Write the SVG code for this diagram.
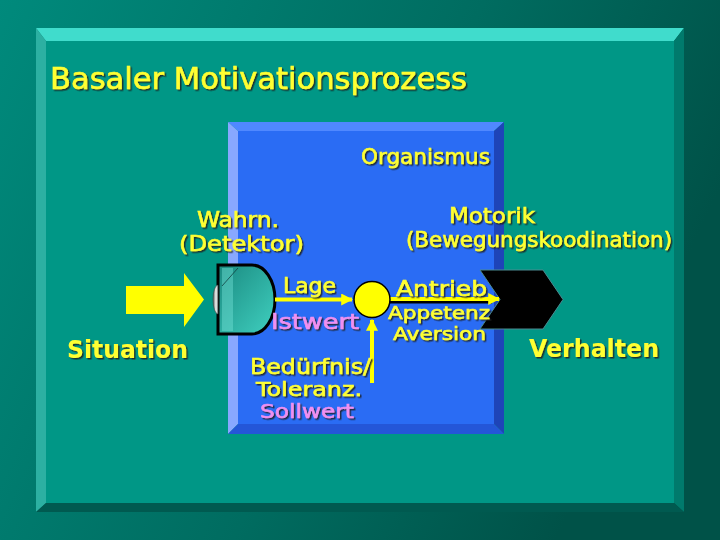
<svg xmlns="http://www.w3.org/2000/svg" width="720" height="540" viewBox="0 0 720 540">
<defs>
  <linearGradient id="bg" x1="0" y1="0" x2="1" y2="0.35">
    <stop offset="0" stop-color="#008a7c"/>
    <stop offset="0.6" stop-color="#006c60"/>
    <stop offset="1" stop-color="#005248"/>
  </linearGradient>
  <linearGradient id="det" x1="0" y1="0" x2="1" y2="1">
    <stop offset="0" stop-color="#1a8a80"/>
    <stop offset="1" stop-color="#40d0c0"/>
  </linearGradient>
  <linearGradient id="lens" x1="0" y1="0" x2="1" y2="0">
    <stop offset="0" stop-color="#505858"/>
    <stop offset="0.6" stop-color="#f4f4f4"/>
    <stop offset="1" stop-color="#909898"/>
  </linearGradient>
  <filter id="sh" x="-10%" y="-20%" width="130%" height="150%">
    <feDropShadow dx="1.5" dy="1.5" stdDeviation="0.4" flood-color="#202020" flood-opacity="0.85"/>
  </filter>
  <marker id="ah" viewBox="0 0 10 10" refX="9" refY="5" markerWidth="3" markerHeight="3" orient="auto" markerUnits="strokeWidth">
    <path d="M0,0 L10,5 L0,10 z" fill="#ffff00"/>
  </marker>
  <style>
    .t{font-family:"Comic Sans MS","DejaVu Sans","Liberation Sans",sans-serif;filter:url(#sh);stroke-width:0.6px;paint-order:stroke}
    .y{fill:#ffff33;stroke:#ffff33}
    .p{fill:#f090f0;stroke:#f090f0}
    .m{font-size:21px}
    .s{font-size:20px}
    .xs{font-size:18.5px}
    .b{font-size:25px;font-weight:bold;stroke-width:0}
    .ln{stroke:#ffff00;stroke-width:4;fill:none}
  </style>
</defs>

<rect x="0" y="0" width="720" height="540" fill="url(#bg)"/>

<g id="panel">
  <polygon points="36,28 684,28 674,41 46,41" fill="#40dccc"/>
  <polygon points="36,28 46,41 46,503 36,512" fill="#2cb0a2"/>
  <polygon points="684,28 684,512 674,503 674,41" fill="#007a6c"/>
  <polygon points="36,512 684,512 674,503 46,503" fill="#005a50"/>
  <rect x="46" y="41" width="628" height="462" fill="#009786"/>
</g>

<g id="title">
  <text class="t y" x="50" y="89" font-size="30" stroke-width="0.8" textLength="417" lengthAdjust="spacingAndGlyphs">Basaler Motivationsprozess</text>
</g>

<g id="organismus">
  <polygon points="228,122 504,122 494,131 238,131" fill="#5088ff"/>
  <polygon points="228,122 238,131 238,424 228,434" fill="#88a8ff"/>
  <polygon points="504,122 504,434 494,424 494,131" fill="#1e44b8"/>
  <polygon points="228,434 504,434 494,424 238,424" fill="#2456d8"/>
  <rect x="238" y="131" width="256" height="293" fill="#2a6cf4"/>
  <text class="t y m" x="361" y="164" textLength="129" lengthAdjust="spacingAndGlyphs">Organismus</text>
</g>

<g id="situation">
  <polygon points="126,286 184,286 184,273 204,299.5 184,327 184,314 126,314" fill="#ffff00"/>
  <text class="t y b" x="67" y="358" textLength="121" lengthAdjust="spacingAndGlyphs">Situation</text>
</g>

<g id="detektor">
  <text class="t y m" x="197" y="227" textLength="82" lengthAdjust="spacingAndGlyphs">Wahrn.</text>
  <text class="t y m" x="179" y="251" textLength="125" lengthAdjust="spacingAndGlyphs">(Detektor)</text>
  <path d="M218,265 L252,265 A23,34.5 0 0 1 252,334 L218,334 Z" fill="url(#det)" stroke="#000" stroke-width="3"/>
  <rect x="222" y="268" width="11" height="63" fill="#70e0d4" opacity="0.45"/>
  <line x1="222" y1="286" x2="238" y2="268" stroke="#104040" stroke-width="0.8"/>
  <path d="M218,285 A5,14.5 0 0 0 218,314 Z" fill="url(#lens)" stroke="#404848" stroke-width="0.6"/>
</g>

<g id="motorik">
  <text class="t y m" x="449" y="223" textLength="86" lengthAdjust="spacingAndGlyphs">Motorik</text>
  <text class="t y m" x="406" y="247" textLength="266" lengthAdjust="spacingAndGlyphs">(Bewegungskoodination)</text>
  <polygon points="480,270 543,270 563,299.5 543,329 480,329 500,299.5" fill="#000" stroke="#4a8a90" stroke-width="1"/>
</g>

<g id="connectors">
  <line class="ln" x1="275" y1="299.5" x2="352" y2="299.5" marker-end="url(#ah)"/>
  <line class="ln" x1="372" y1="383" x2="372" y2="320" marker-end="url(#ah)"/>
  <line x1="390" y1="301.5" x2="492" y2="301.5" stroke="#000" stroke-width="4"/>
  <line class="ln" x1="390" y1="299" x2="499" y2="299" marker-end="url(#ah)"/>
</g>

<g id="vergleicher">
  <circle cx="372" cy="299.5" r="18" fill="#ffff00" stroke="#000" stroke-width="1.5"/>
</g>

<g id="labels-innen">
  <text class="t y m" x="283" y="293" textLength="53" lengthAdjust="spacingAndGlyphs">Lage</text>
  <text class="t p m" x="271" y="329" textLength="88" lengthAdjust="spacingAndGlyphs">Istwert</text>
  <text class="t y m" x="250" y="374" textLength="121" lengthAdjust="spacingAndGlyphs">Bedürfnis/</text>
  <text class="t y s" x="256" y="396" textLength="106" lengthAdjust="spacingAndGlyphs">Toleranz.</text>
  <text class="t p s" x="260" y="418" textLength="94" lengthAdjust="spacingAndGlyphs">Sollwert</text>
  <text class="t y m" x="396" y="296" textLength="91" lengthAdjust="spacingAndGlyphs">Antrieb</text>
  <text class="t y xs" x="388" y="319" textLength="102" lengthAdjust="spacingAndGlyphs">Appetenz</text>
  <text class="t y xs" x="393" y="340" textLength="93" lengthAdjust="spacingAndGlyphs">Aversion</text>
</g>

<g id="verhalten">
  <text class="t y b" x="529" y="357" textLength="130" lengthAdjust="spacingAndGlyphs">Verhalten</text>
</g>
</svg>
